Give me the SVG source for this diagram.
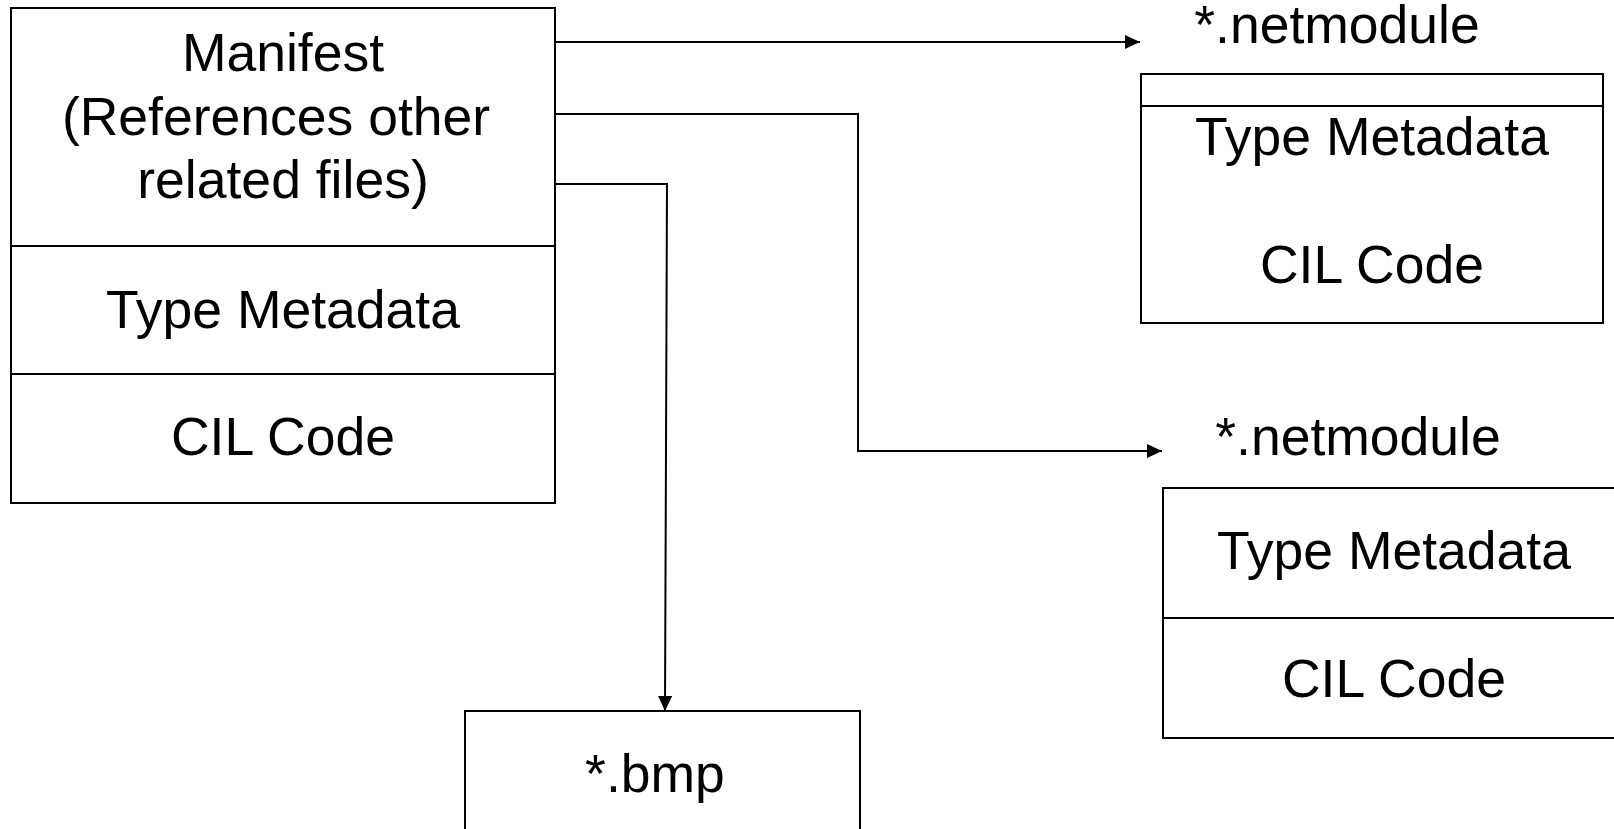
<svg xmlns="http://www.w3.org/2000/svg" width="1614" height="829" viewBox="0 0 1614 829">
<style>
.box{fill:#fff;stroke:#000;stroke-width:2}
.div{stroke:#000;stroke-width:2}
.t{font-family:"Liberation Sans",Arial,sans-serif;font-size:53.5px;fill:#000;text-anchor:middle}
.c{fill:none;stroke:#000;stroke-width:2}
</style>
<defs>
<marker id="ah" markerUnits="userSpaceOnUse" markerWidth="17" markerHeight="16" refX="15" refY="7" orient="auto">
<path d="M0,0 L15,7 L0,14 z" fill="#000"/>
</marker>
</defs>
<rect width="1614" height="829" fill="#fff"/>
<g id="assembly">
<rect class="box" x="11" y="8" width="544" height="495"/>
<line class="div" x1="11" y1="246" x2="555" y2="246"/>
<line class="div" x1="11" y1="374" x2="555" y2="374"/>
<text class="t" x="283" y="71">Manifest</text>
<text class="t" x="276" y="135">(References other</text>
<text class="t" x="283" y="198">related files)</text>
<text class="t" x="283" y="328">Type Metadata</text>
<text class="t" x="283" y="455">CIL Code</text>
</g>
<g id="netmodule1">
<text class="t" x="1337" y="43">*.netmodule</text>
<rect class="box" x="1141" y="74" width="462" height="249"/>
<line class="div" x1="1141" y1="106" x2="1603" y2="106"/>
<text class="t" x="1372" y="155">Type Metadata</text>
<text class="t" x="1372" y="283">CIL Code</text>
</g>
<g id="netmodule2">
<text class="t" x="1358" y="455">*.netmodule</text>
<rect class="box" x="1163" y="488" width="470" height="250"/>
<line class="div" x1="1163" y1="618" x2="1633" y2="618"/>
<text class="t" x="1394" y="569">Type Metadata</text>
<text class="t" x="1394" y="697">CIL Code</text>
</g>
<g id="bmp">
<rect class="box" x="465" y="711" width="395" height="130"/>
<text class="t" x="655" y="792">*.bmp</text>
</g>
<g id="connectors">
<polyline class="c" points="555,42 1140,42" marker-end="url(#ah)"/>
<polyline class="c" points="555,114 858,114 858,451 1162,451" marker-end="url(#ah)"/>
<polyline class="c" points="555,184 667,184 665,711" marker-end="url(#ah)"/>
</g>
</svg>
